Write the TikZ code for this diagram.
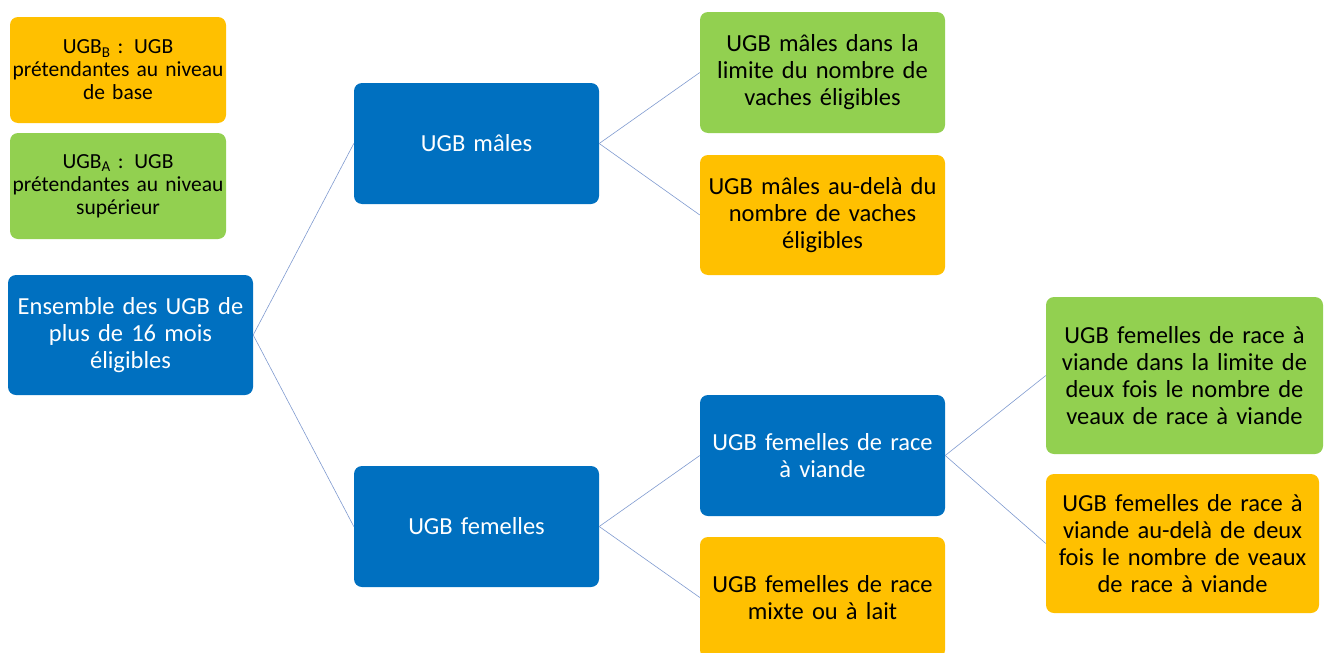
\documentclass[tikz,border=0pt]{standalone}
\usepackage{fontspec}
\setmainfont{Carlito}
\usepackage{xcolor}
\usepackage{tikz}
\usetikzlibrary{positioning}

\definecolor{ugbblue}{HTML}{0070C0}
\definecolor{ugbgreen}{HTML}{92D050}
\definecolor{ugborange}{HTML}{FFC000}
\definecolor{ugbline}{HTML}{7F9ACF}

\tikzset{
  box/.style={rectangle, rounded corners=8pt, inner sep=0pt, align=center,
    minimum width=245pt, minimum height=121pt, text width=240pt,
    font=\fontsize{24.5}{27}\selectfont},
  bluebox/.style={box, fill=ugbblue, text=white},
  greenbox/.style={box, fill=ugbgreen, text=black},
  orangebox/.style={box, fill=ugborange, text=black},
  legend/.style={minimum width=216pt, minimum height=106pt, text width=212pt,
    font=\fontsize{21.5}{23}\selectfont},
  link/.style={-, draw=ugbline, line width=0.6pt}
}

\begin{document}
\begin{tikzpicture}[x=1pt, y=-1pt]
  \useasboundingbox (0,0) rectangle (1325,653);
  % legend
  \node[orangebox, legend] (legb) at (118,70) {UGB\textsubscript{B} : UGB\\prétendantes au niveau\\de base}; %
  \node[greenbox, legend] (lega) at (118,186) {UGB\textsubscript{A} : UGB\\prétendantes au niveau\\supérieur}; %
  % tree
  \node[bluebox, minimum height=120pt] (root) at (130.5,335) {Ensemble des UGB de\\plus de 16 mois\\éligibles}; %
  \node[bluebox] (males) at (476.5,143.5) {UGB mâles};
  \node[bluebox] (femelles) at (476.5,526.5) {UGB femelles};
  \node[greenbox] (mlim) at (822.5,72.5) {UGB mâles dans la\\limite du nombre de\\vaches éligibles};
  \node[orangebox, minimum height=120pt] (mbey) at (822.5,215) {UGB mâles au-delà du\\nombre de vaches\\éligibles};
  \node[bluebox] (viande) at (822.5,455.5) {UGB femelles de race\\à viande};
  \node[orangebox] (mixte) at (822.5,597.5) {UGB femelles de race\\mixte ou à lait};
  \node[greenbox, minimum width=277pt, minimum height=157pt, text width=272pt] (vlim) at (1184.5,375.5) {UGB femelles de race à\\viande dans la limite de\\deux fois le nombre de\\veaux de race à viande};
  \node[orangebox, minimum width=273pt, minimum height=139pt, text width=268pt] (vbey) at (1182.5,543.5) {UGB femelles de race à\\viande au-delà de deux\\fois le nombre de veaux\\de race à viande};
  % connectors
  \draw[link] (root.east) -- (males.west);
  \draw[link] (root.east) -- (femelles.west);
  \draw[link] (males.east) -- (mlim.west);
  \draw[link] (males.east) -- (mbey.west);
  \draw[link] (femelles.east) -- (viande.west);
  \draw[link] (femelles.east) -- (mixte.west);
  \draw[link] (viande.east) -- (vlim.west);
  \draw[link] (viande.east) -- (vbey.west);
\end{tikzpicture}
\end{document}
